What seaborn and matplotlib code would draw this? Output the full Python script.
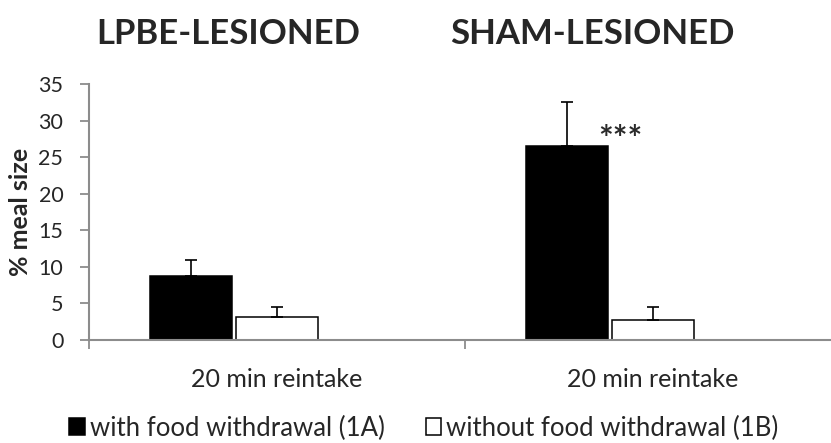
import matplotlib
matplotlib.use("Agg")
import matplotlib.pyplot as plt
from matplotlib.patches import Patch
import seaborn as sns
import pandas as pd
import numpy as np

# ---- data ----
groups = ["LPBE-LESIONED", "SHAM-LESIONED"]
tick_labels = ["20 min reintake", "20 min reintake"]
conditions = ["with food withdrawal (1A)", "without food withdrawal (1B)"]
with_fw = [8.8, 26.5]
without_fw = [3.2, 2.75]
with_err = [2.15, 6.1]
without_err = [1.3, 1.75]
y_ticks = [0, 5, 10, 15, 20, 25, 30, 35]
signif = "***"

hidden = "_spacer"
df = pd.DataFrame({
    "group": groups * 2,
    "condition": [conditions[0]] * 2 + [conditions[1]] * 2,
    "value": with_fw + without_fw,
})

sns.set_style("white")
plt.rcParams["font.family"] = ["Lato", "DejaVu Sans"]

fig = plt.figure(figsize=(8.31, 4.43), dpi=100)
ax = fig.add_axes([89 / 831, 1 - 340 / 443, (841 - 89) / 831, (340 - 84) / 443])

palette = {conditions[0]: "black", conditions[1]: "white", hidden: "white"}
sns.barplot(data=df, x="group", y="value", hue="condition",
            order=groups, hue_order=conditions + [hidden],
            palette=palette, edgecolor="black", linewidth=1.1,
            width=0.686, gap=0.0465, errorbar=None, legend=False,
            saturation=1, ax=ax)

# error bars (upward only)
bars = sorted([p for p in ax.patches if p.get_height() > 0], key=lambda p: p.get_x())
errs = [with_err[0], without_err[0], with_err[1], without_err[1]]
xs = [b.get_x() + b.get_width() / 2 for b in bars]
hs = [b.get_height() for b in bars]
ax.errorbar(xs, hs, yerr=[np.zeros(len(errs)), errs], fmt="none",
            ecolor="black", elinewidth=1.2, capsize=4, capthick=1.2, zorder=3)

# significance
ax.text(0.912, 26.0, signif, ha="center", va="baseline",
        fontsize=25, fontweight="bold", color="#2a2a2a")

ax.set_xlim(-0.5, 1.5)
ax.set_ylim(0, 35)
ax.set_yticks(y_ticks)
ax.set_xticks([-0.5, 0.5, 1.5])
ax.set_xticklabels([])
ax.set_xticks([0, 1], minor=True)
ax.set_xticklabels(tick_labels, minor=True, fontsize=18)
ax.tick_params(axis="x", which="major", direction="out", length=6.5,
               width=1.3, color="#8c8c8c", bottom=True)
ax.tick_params(axis="x", which="minor", length=0, pad=20, bottom=True)
ax.tick_params(axis="y", direction="out", length=6.5, width=1.3,
               color="#8c8c8c", labelsize=15.5, pad=12, left=True)
ax.set_xlabel("")
ax.set_ylabel("% meal size", fontsize=18, fontweight="bold")
ax.yaxis.set_label_coords(-0.076, 0.5)

for s in ["top", "right"]:
    ax.spines[s].set_visible(False)
for s in ["left", "bottom"]:
    ax.spines[s].set_color("#8c8c8c")
    ax.spines[s].set_linewidth(1.5)

# panel titles
fig.text(228 / 831, 1 - 44 / 443, groups[0], ha="center", va="baseline",
         fontsize=25, fontweight="bold")
fig.text(592 / 831, 1 - 44 / 443, groups[1], ha="center", va="baseline",
         fontsize=25, fontweight="bold")

handles = [Patch(facecolor="black", edgecolor="black", linewidth=1.1),
           Patch(facecolor="white", edgecolor="black", linewidth=1.1)]
fig.legend(handles, conditions, loc="center", bbox_to_anchor=(424 / 831, 1 - 428 / 443),
           ncol=2, frameon=False, fontsize=18.5, handlelength=0.6, handleheight=0.6,
           handletextpad=0.2, columnspacing=1.6, borderpad=0, borderaxespad=0)

fig.savefig("out.png", dpi=100)
